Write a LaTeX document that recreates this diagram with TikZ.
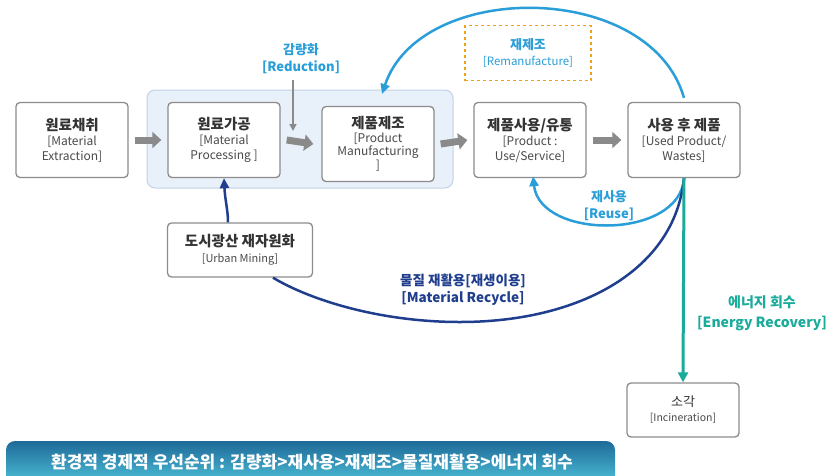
\documentclass[tikz,border=0pt]{standalone}
\usepackage{fontspec}
\setmainfont{Noto Sans CJK KR}
\usetikzlibrary{arrows.meta}
\definecolor{boxline}{HTML}{8C8C8C}
\definecolor{ktext}{HTML}{333333}
\definecolor{etext}{HTML}{4A4A4A}
\definecolor{grp}{HTML}{E8F0FA}
\definecolor{grpline}{HTML}{C3D2E4}
\definecolor{garrow}{HTML}{8A8A8A}
\definecolor{lblue}{HTML}{2A9ED8}
\definecolor{dblue}{HTML}{203E8E}
\definecolor{tealc}{HTML}{1AAB9B}
\definecolor{orng}{HTML}{F0A020}
\definecolor{bantop}{HTML}{1E6A98}
\definecolor{banbot}{HTML}{55CDE2}
\tikzset{
  stepbox/.style={draw=boxline, line width=1.3pt, rounded corners=4pt, fill=white,
    minimum width=112pt, minimum height=75pt, align=center, inner sep=2pt,
    font=\fontsize{12}{15}\selectfont},
  lbl/.style={align=center, inner sep=1pt, font=\fontsize{12}{16}\selectfont},
  blockarrow/.style={draw=garrow, line width=7pt, -{Triangle[length=9pt,width=16pt]}},
}
\newcommand{\ko}[1]{{\fontsize{14.5}{17}\selectfont\bfseries\color{ktext}#1}}
\newcommand{\en}[1]{{\color{etext}#1}}
\begin{document}
\begin{tikzpicture}[x=1pt,y=-1pt]
\useasboundingbox (0,0) rectangle (830,475);
\fill[white] (0,0) rectangle (830,475);
% group
\node[draw=grpline, fill=grp, line width=1pt, rounded corners=8pt, minimum width=306pt, minimum height=98pt] (grp) at (300,139) {};
% boxes
\node[stepbox] (b1) at (72,140) {\ko{원료채취}\\\en{[Material}\\\en{Extraction]}};
\node[stepbox] (b2) at (224,140) {\ko{원료가공}\\\en{[Material}\\\en{Processing ]}};
\node[stepbox, font=\fontsize{12}{13.5}\selectfont] (b3) at (378,144) {\ko{제품제조}\\\en{[Product}\\\en{Manufacturing}\\\en{]}};
\node[stepbox] (b4) at (530,140) {\ko{제품사용/유통}\\\en{[Product :}\\\en{Use/Service]}};
\node[stepbox] (b5) at (684,140) {\ko{사용 후 제품}\\\en{[Used Product/}\\\en{Wastes]}};
\node[stepbox, minimum width=145pt, minimum height=54pt, font=\fontsize{11}{16}\selectfont] (um) at (240,250) {\ko{도시광산 재자원화}\\\en{[Urban Mining]}};
\node[stepbox, minimum width=112pt, minimum height=54pt, font=\fontsize{10.5}{15}\selectfont] (inc) at (683,410) {{\fontsize{13}{15}\selectfont\color{ktext}소각}\\\en{[Incineration]}};
% remanufacture label
\node[draw=orng, dashed, line width=1.5pt, minimum width=126pt, minimum height=55pt, align=center, font=\fontsize{11.5}{16}\selectfont, text=lblue] (rem) at (528,53)
  {{\fontsize{13}{15}\selectfont\bfseries 재제조}\\{[Remanufacture]}};
% reduction label
\node[lbl, text=lblue, font=\fontsize{13}{17}\selectfont\bfseries] (red) at (301,59) {감량화\\{[Reduction]}};
\coordinate (redend) at (293,131);
\draw[garrow, line width=1.5pt, -{Triangle[length=7pt,width=7pt]}] (293,80) -- (redend);
% gray block arrows
\draw[blockarrow] ([xshift=6pt]b1.east) -- ([xshift=-6pt]b2.west);
\draw[blockarrow] ([xshift=6pt]b2.east) -- ([xshift=-8pt]b3.west);
\draw[blockarrow] ([xshift=6pt]b3.east) -- ([xshift=-6pt]b4.west);
\draw[blockarrow] ([xshift=6pt]b4.east) -- ([xshift=-6pt]b5.west);
% remanufacture arc
\draw[lblue, line width=2.5pt, -{Triangle[length=10pt,width=9pt]}]
  ([yshift=4pt]b5.north) .. controls (650,-20) and (420,-20) .. (382,94);
% reuse
\draw[lblue, line width=2.5pt, -{Triangle[length=10pt,width=9pt]}]
  (b5.south) .. controls (680,240) and (540,240) .. ([xshift=3pt,yshift=2pt]b4.south);
\node[lbl, text=lblue, font=\fontsize{13}{17}\selectfont\bfseries] (reuse) at (609,206) {재사용\\{[Reuse]}};
% material recycle
\draw[dblue, line width=2.5pt]
  (b5.south) .. controls (675,270) and (580,322) .. (460,322)
  .. controls (380,322) and (310,300) .. ([xshift=33pt]um.south);
\draw[dblue, line width=2.5pt, -{Triangle[length=10pt,width=9pt]}]
  ([xshift=-12pt]um.north) .. controls (228,210) and (225,200) .. ([xshift=0pt]b2.south);
\node[lbl, text=dblue, font=\fontsize{13.5}{17}\selectfont\bfseries] (mrec) at (463,290) {물질 재활용[재생이용]\\{[Material Recycle]}};
% energy recovery
\draw[tealc, line width=3pt, -{Triangle[length=10pt,width=10pt]}] (b5.south) -- (inc.north);
\node[lbl, text=tealc, font=\fontsize{14}{20}\selectfont\bfseries] (en) at (762,313) {에너지 회수\\{[Energy Recovery]}};
% banner
\shade[top color=bantop, bottom color=banbot, rounded corners=9pt]
  (6,441) rectangle (615,490);
\node[text=white, font=\fontsize{17}{20}\selectfont\bfseries] (ban) at (312,462)
  {환경적 경제적 우선순위 : 감량화>재사용>재제조>물질재활용>에너지 회수};
\end{tikzpicture}
\end{document}
